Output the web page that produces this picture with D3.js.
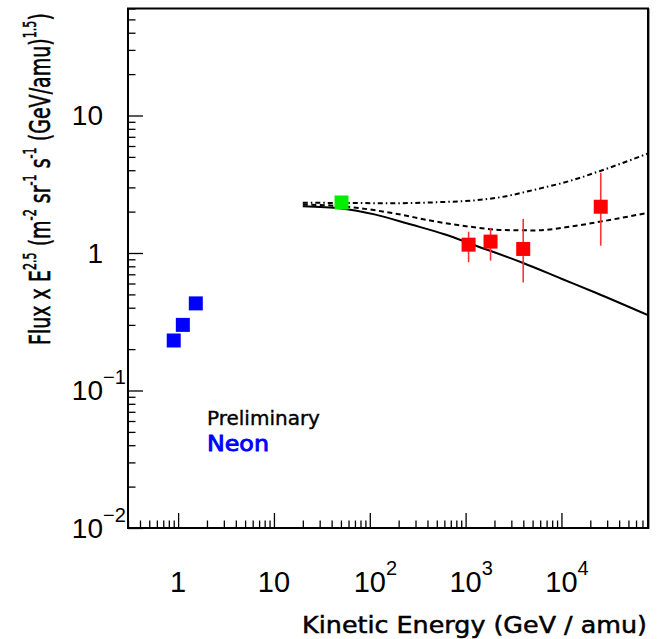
<!DOCTYPE html>
<meta charset="utf-8">
<title>Neon flux x E^2.5</title>
<script src="https://d3js.org/d3.v7.min.js"></script>
<style>
  body { margin: 0; background: #fff; }
</style>
<body>
<div id="viz"></div>
<script>
  // ---- data ----
  // blue points (low energy)
  const blueE = [0.9, 1.12, 1.53];
  const blueF = [0.231, 0.30, 0.43];
  // green point
  const greenE = [50.7];
  const greenF = [2.33];
  // red points with error bars
  const redE = [1074, 1820, 3990, 25700];
  const redF = [1.15, 1.21, 1.07, 2.17];
  const redLo = [0.857, 0.88, 0.61, 1.13];
  const redHi = [1.43, 1.52, 1.77, 3.83];
  // model curves
  const solidE = [20, 50.4, 112, 270, 600, 1283, 3925, 10000, 22800, 80000];
  const solidF = [2.19, 2.11, 1.91, 1.61, 1.37, 1.13, 0.849, 0.65, 0.514, 0.353];
  const dashE = [20, 50, 82, 181, 472, 1138, 2430, 5410, 12000, 26700, 80000];
  const dashF = [2.25, 2.19, 2.11, 1.94, 1.70, 1.55, 1.47, 1.46, 1.55, 1.70, 1.96];
  const dotE = [20, 60, 181, 500, 1213, 2430, 5410, 12000, 26700, 80000];
  const dotF = [2.32, 2.31, 2.30, 2.34, 2.41, 2.56, 2.90, 3.33, 4.00, 5.29];
  // tick labels [base, exponent]
  const xTickLabels = [["1", ""], ["10", ""], ["10", "2"], ["10", "3"], ["10", "4"]];
  const yTickLabels = [["10", ""], ["1", ""], ["10", "\u22121"], ["10", "\u22122"]];

  const width = 660, height = 639;
  const mLeft = 128, mRight = 648, mTop = 8.5, mBottom = 528;

  const svg = d3.select("#viz").append("svg")
    .attr("width", width)
    .attr("height", height)
    .attr("viewBox", [0, 0, width, height]);

  svg.append("rect").attr("width", width).attr("height", height).attr("fill", "#fff");

  const x = d3.scaleLog().domain([0.3, 8e4]).range([mLeft, mRight]);
  const y = d3.scaleLog().domain([0.01, 60]).range([mBottom, mTop]);

  const isMajor = v => Math.abs(Math.log10(v) - Math.round(Math.log10(v))) < 1e-9;
  const xTicks = x.ticks(), yTicks = y.ticks();
  const xMajor = xTicks.filter(isMajor), yMajor = yTicks.filter(isMajor);

  // ticks (inward)
  svg.append("g")
    .attr("transform", `translate(0,${mBottom})`)
    .call(d3.axisBottom(x).tickValues(xTicks.filter(v => !isMajor(v))).tickSize(-7.5).tickFormat(""))
    .call(g => g.select(".domain").remove());
  svg.append("g")
    .attr("transform", `translate(0,${mBottom})`)
    .call(d3.axisBottom(x).tickValues(xMajor).tickSize(-15).tickFormat(""))
    .call(g => g.select(".domain").remove());
  svg.append("g")
    .attr("transform", `translate(${mLeft},0)`)
    .call(d3.axisLeft(y).tickValues(yTicks.filter(v => !isMajor(v))).tickSize(-7.5).tickFormat(""))
    .call(g => g.select(".domain").remove());
  svg.append("g")
    .attr("transform", `translate(${mLeft},0)`)
    .call(d3.axisLeft(y).tickValues(yMajor).tickSize(-15).tickFormat(""))
    .call(g => g.select(".domain").remove());
  svg.selectAll(".tick line").attr("stroke", "#000").attr("stroke-width", 1.3);

  // frame
  svg.append("line").attr("x1", mRight + 1.5).attr("x2", mRight + 1.5).attr("y1", mTop).attr("y2", mBottom + 1)
    .attr("stroke", "#999").attr("stroke-width", 1);
  svg.append("rect")
    .attr("x", mLeft).attr("y", mTop)
    .attr("width", mRight - mLeft).attr("height", mBottom - mTop)
    .attr("fill", "none").attr("stroke", "#000").attr("stroke-width", 2);

  // tick labels
  const numFont = "Liberation Sans, Arial, sans-serif";
  xMajor.forEach((v, i) => {
    const [b, e] = xTickLabels[i];
    const t = svg.append("text").attr("font-family", numFont).attr("font-size", 29)
      .attr("y", 592).text(b);
    const w = t.node().getComputedTextLength();
    t.attr("x", x(v) - w / 2);
    if (e) svg.append("text").attr("font-family", numFont).attr("font-size", 20)
      .attr("x", x(v) + w / 2).attr("y", 575).text(e);
  });
  yMajor.slice().reverse().forEach((v, i) => {
    const [b, e] = yTickLabels[i];
    svg.append("text").attr("font-family", numFont).attr("font-size", 28)
      .attr("text-anchor", "end").attr("x", 103).attr("y", y(v) + 10).text(b);
    if (e) svg.append("text").attr("font-family", numFont).attr("font-size", 20)
      .attr("x", 103).attr("y", y(v) - 6).text(e);
  });

  // axis titles
  const titleFont = "DejaVu Sans, sans-serif";
  const xt = svg.append("text").attr("font-family", titleFont).attr("font-size", 23)
    .attr("stroke", "#000").attr("stroke-width", 0.5)
    .attr("text-anchor", "end").text("Kinetic Energy (GeV / amu)");
  const sx = 345 / xt.node().getComputedTextLength();
  xt.attr("transform", `translate(647,633) scale(${sx},1)`);

  const yParts = [["Flux x E", 0], ["2.5", 1], [" (m", 0], ["-2", 1], [" sr", 0], ["-1", 1],
    [" s", 0], ["-1", 1], [" (GeV/amu)", 0], ["1.5", 1], [")", 0]];
  const yt = svg.append("text").attr("font-family", titleFont).attr("font-size", 29)
    .attr("stroke", "#000").attr("stroke-width", 0.6);
  let raised = false;
  yParts.forEach(([s, sup]) => {
    const ts = yt.append("tspan").text(s);
    if (sup) { ts.attr("font-size", 17).attr("dy", -14); raised = true; }
    else if (raised) { ts.attr("dy", 14); raised = false; }
  });
  const sy = 332 / yt.node().getComputedTextLength();
  yt.attr("transform", `translate(50,345) rotate(-90) scale(${sy},1)`);

  // curves
  const line = d3.line().x(d => x(d[0])).y(d => y(d[1])).curve(d3.curveMonotoneX);
  const curves = [
    [d3.zip(solidE, solidF), null],
    [d3.zip(dashE, dashF), "5,3.5"],
    [d3.zip(dotE, dotF), "5,3,1.5,3"]
  ];
  curves.forEach(([pts, dash]) => {
    svg.append("path").attr("d", line(pts))
      .attr("fill", "none").attr("stroke", "#000").attr("stroke-width", 2)
      .attr("stroke-dasharray", dash);
  });

  // error bars
  svg.append("g").selectAll("line").data(redE).join("line")
    .attr("x1", d => x(d)).attr("x2", d => x(d))
    .attr("y1", (d, i) => y(redLo[i])).attr("y2", (d, i) => y(redHi[i]))
    .attr("stroke", "#ff3333").attr("stroke-width", 1.6);

  // square markers
  const sq = 14;
  const drawSquares = (E, F, color) => svg.append("g").selectAll("rect").data(E).join("rect")
    .attr("x", d => x(d) - sq / 2).attr("y", (d, i) => y(F[i]) - sq / 2)
    .attr("width", sq).attr("height", sq).attr("fill", color);
  drawSquares(blueE, blueF, "#0000ff");
  drawSquares(greenE, greenF, "#00ee00");
  drawSquares(redE, redF, "#ff0000");

  // annotations
  const pre = svg.append("text").attr("font-family", titleFont).attr("font-size", 20)
    .attr("stroke", "#000").attr("stroke-width", 0.4).text("Preliminary");
  pre.attr("transform", `translate(207,425) scale(${113 / pre.node().getComputedTextLength()},1)`);
  const neon = svg.append("text").attr("font-family", titleFont).attr("font-size", 22)
    .attr("fill", "#0000ff").attr("stroke", "#0000ff").attr("stroke-width", 0.9).text("Neon");
  neon.attr("transform", `translate(207,450.5) scale(${62 / neon.node().getComputedTextLength()},1)`);
</script>
</body>
